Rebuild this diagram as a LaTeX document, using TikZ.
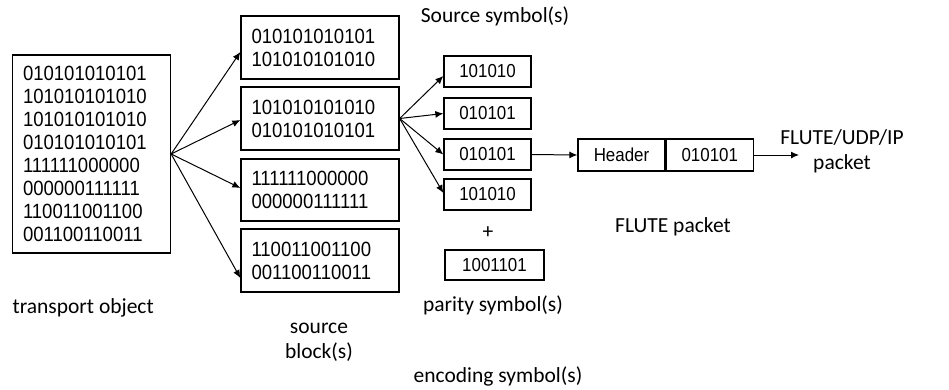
\documentclass[tikz,border=0pt]{standalone}
\usepackage{fontspec}
\setmainfont{Liberation Sans}
\newfontfamily\bitfont{Liberation Sans}[FakeStretch=0.9]
\newfontfamily\labfont{Carlito}
\usetikzlibrary{arrows.meta}
\begin{document}
\begin{tikzpicture}[x=1pt,y=-1pt,
  line width=1.2pt,
  bits/.style={draw, line width=1.3pt, align=left, inner ysep=0pt,
    font=\bitfont\fontsize{20.6}{23}\selectfont},
  bigbox/.style={bits, text width=137pt, inner xsep=10.5pt},
  symbox/.style={draw, line width=1.3pt, inner sep=0pt, minimum height=31pt,
    font=\bitfont\fontsize{18.8}{21}\selectfont},
  lab/.style={font=\labfont\fontsize{21.5}{25}\selectfont, align=center, inner sep=0pt},
  arr/.style={-{Latex[length=8pt,width=7pt]}, line width=1pt}]
\useasboundingbox (0,0) rectangle (949,389);

% transport object
\node[bigbox, minimum height=198pt] (obj) at (91.5,154)
  {010101010101\\101010101010\\101010101010\\010101010101\\111111000000\\000000111111\\110011001100\\001100110011};
\node[lab, anchor=west] (objlab) at (12,308) {transport object};

% source blocks
\node[bigbox, minimum height=63pt] (b1) at (320,47.5) {010101010101\\101010101010};
\node[bigbox, minimum height=63pt] (b2) at (320,118.5) {101010101010\\010101010101};
\node[bigbox, minimum height=62pt] (b3) at (320,190) {111111000000\\000000111111};
\node[bigbox, minimum height=63pt] (b4) at (320,260.5) {110011001100\\001100110011};
\node[lab] (blklab) at (319,342) {source\\block(s)};

% symbols
\node[lab] (srclab) at (495,16) {Source symbol(s)};
\node[symbox, minimum width=87pt] (s1) at (487.5,71.5) {101010};
\node[symbox, minimum width=87pt] (s2) at (487.5,113.5) {010101};
\node[symbox, minimum width=87pt] (s3) at (487.5,154.5) {010101};
\node[symbox, minimum width=87pt] (s4) at (487.5,194.5) {101010};
\node[lab] (plus) at (488,233) {+};
\node[symbox, minimum width=99pt, minimum height=30pt] (par) at (494.5,265) {1001101};
\node[lab] (parlab) at (493,305) {parity symbol(s)};
\node[lab] (enclab) at (498,376) {encoding symbol(s)};

% FLUTE packet
\node[symbox, minimum width=87pt, minimum height=32pt] (hdr) at (621.5,155) {Header};
\node[symbox, minimum width=87pt, minimum height=32pt, anchor=west] (pay) at (hdr.east) {010101};
\node[lab] (flutelab) at (673,227) {FLUTE packet};
\node[lab] (iplab) at (842,151) {FLUTE/UDP/IP\\packet};
\coordinate (out) at (799,155);

% connectors
\draw[arr] (obj.east) -- ([yshift=-4.5pt]b1.west);
\draw[arr] (obj.east) -- ([yshift=-1.5pt]b2.west);
\draw[arr] (obj.east) -- ([yshift=2pt]b3.west);
\draw[arr] (obj.east) -- ([yshift=-17.5pt]b4.west);
\draw[arr] (b2.east) -- ([yshift=-4.5pt]s1.west);
\draw[arr] (b2.east) -- (s2.west);
\draw[arr] (b2.east) -- (s3.west);
\draw[arr] (b2.east) -- ([yshift=1.5pt]s4.west);
\draw[arr] (s3.east) -- (hdr.west);
\draw[arr] (pay.east) -- (out);
\end{tikzpicture}
\end{document}
